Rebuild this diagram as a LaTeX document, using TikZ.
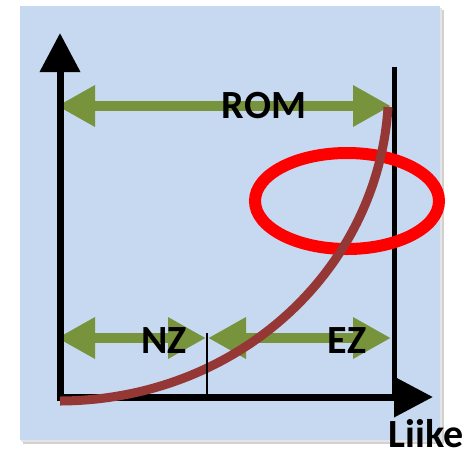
\documentclass[tikz,border=0pt]{standalone}
\usepackage{fontspec}
\setmainfont{Carlito}
\usetikzlibrary{arrows.meta,shapes.geometric}
\definecolor{bgblue}{HTML}{C6D9F1}
\definecolor{olivegreen}{HTML}{77933C}
\definecolor{curvered}{HTML}{953735}
\begin{document}
\begin{tikzpicture}[x=1pt,y=-1pt,
  lbl/.style={font=\bfseries\fontsize{40}{40}\selectfont, inner sep=0pt, text=black},
  span/.style={olivegreen, line width=10pt, {Triangle[length=38pt,width=39pt]}-{Triangle[length=38pt,width=39pt]}},
  axis/.style={black, line width=7pt, -{Triangle[length=39pt,width=39pt]}},
  guide/.style={black, line width=5pt},
  tick/.style={black, line width=2pt},
  loop/.style={draw=red, line width=12pt, ellipse, inner sep=0pt, minimum width=184pt, minimum height=96pt},
  growth/.style={curvered, line width=9pt}]
\useasboundingbox (0,0) rectangle (470,451);
% background panel with soft shadow
\fill[black!18] (23,10) rectangle (444,444);
\fill[black!10] (21,8) rectangle (442,442);
\fill[bgblue] (20,6) rectangle (440,440);
% key points
\coordinate (O) at (60,397);
\coordinate (ytop) at (60,33);
\coordinate (xend) at (433,397);
\coordinate (rtop) at (394,67);
\coordinate (rbot) at (394,399);
\coordinate (mtop) at (207,333);
\coordinate (mbot) at (207,397);
\coordinate (romL) at (57,106);
\coordinate (romR) at (391,106);
\coordinate (nzL) at (57,338);
\coordinate (nzR) at (206,338);
\coordinate (ezL) at (208,338);
\coordinate (ezR) at (391,338);
\coordinate (cs) at (60,401);
\coordinate (ce) at (388,107);
% green spans
\draw[span] (romL) -- (romR);
\draw[span] (nzL) -- (nzR);
\draw[span] (ezL) -- (ezR);
% labels
\node[lbl] (rom) at (264,106) {ROM};
\node[lbl] (nz) at (164,341) {NZ};
\node[lbl] (ez) at (347,341) {EZ};
\node[lbl] (liike) at (426,433.5) {Liike};
% axes
\draw[axis] ([yshift=3.5pt]O) -- (ytop);
\draw[axis] ([xshift=-3.5pt]O) -- (xend);
\draw[guide] (rtop) -- (rbot);
% highlight ellipse
\node[loop] (ring) at (347,201) {};
% growth curve
\draw[growth] (cs) .. controls (240,400) and (378,268) .. (ce);
% divider tick
\draw[tick] (mtop) -- (mbot);
\end{tikzpicture}
\end{document}
